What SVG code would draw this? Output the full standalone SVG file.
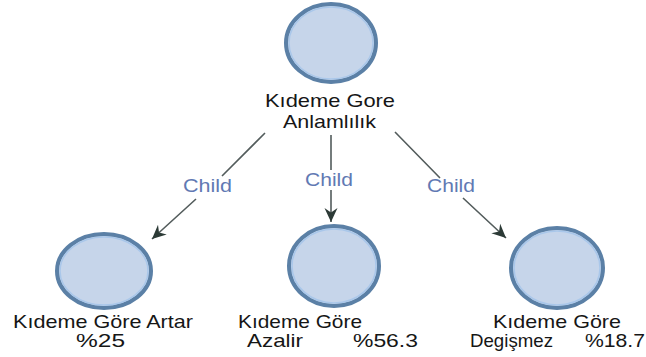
<svg xmlns="http://www.w3.org/2000/svg" width="646" height="357" viewBox="0 0 646 357">
  <style>
    .node-shape { fill: #c6d5ea; stroke: #5b80a6; stroke-width: 4; }
    .node-inner { fill: none; stroke: #a9c7ea; stroke-width: 1.5; }
    .label { font-family: "Liberation Sans", Arial, sans-serif; font-size: 18.5px; fill: #161616; }
    .edge { fill: none; stroke: #535c5c; stroke-width: 1.6; marker-end: url(#arrow); }
    .edge-label { font-family: "Liberation Sans", Arial, sans-serif; font-size: 17.5px; fill: #6179b3; }
  </style>
  <defs>
    <marker id="arrow" markerUnits="userSpaceOnUse" markerWidth="16" markerHeight="14" viewBox="-14 -7 16 14" refX="0" refY="0" orient="auto">
      <path d="M0,0 L-14,-6.5 L-9.5,0 L-14,6.5 Z" fill="#2c3a36"/>
    </marker>
  </defs>
  <rect width="646" height="357" fill="#ffffff"/>

  <g id="connectors">
    <path class="edge" d="M265,133 L222,176 M196,199 L152,239"/>
    <path class="edge" d="M331,135 L331,170 M331,190 L331,222"/>
    <path class="edge" d="M395,132 L440,178 M463,198 L506,238"/>
    <text class="edge-label" x="183" y="192" textLength="49" lengthAdjust="spacingAndGlyphs">Child</text>
    <text class="edge-label" x="305" y="186" textLength="48" lengthAdjust="spacingAndGlyphs">Child</text>
    <text class="edge-label" x="427" y="192" textLength="48" lengthAdjust="spacingAndGlyphs">Child</text>
  </g>

  <g id="root">
    <ellipse class="node-shape" cx="331" cy="43" rx="45" ry="39"/>
    <ellipse class="node-inner" cx="331" cy="43" rx="42" ry="36"/>
    <text class="label" x="265" y="107" textLength="130" lengthAdjust="spacingAndGlyphs">Kıdeme Gore</text>
    <text class="label" x="283" y="128" textLength="93" lengthAdjust="spacingAndGlyphs">Anlamlılık</text>
  </g>

  <g id="artar">
    <ellipse class="node-shape" cx="104" cy="271" rx="47" ry="37"/>
    <ellipse class="node-inner" cx="104" cy="271" rx="44" ry="34"/>
    <text class="label" x="13" y="328" textLength="180" lengthAdjust="spacingAndGlyphs">Kıdeme Göre Artar</text>
    <text class="label" x="76" y="347" textLength="49" lengthAdjust="spacingAndGlyphs">%25</text>
  </g>

  <g id="azalir">
    <ellipse class="node-shape" cx="334" cy="266" rx="45" ry="40"/>
    <ellipse class="node-inner" cx="334" cy="266" rx="42" ry="37"/>
    <text class="label" x="238" y="328" textLength="124" lengthAdjust="spacingAndGlyphs">Kıdeme Göre</text>
    <text class="label" x="247" y="347" textLength="56" lengthAdjust="spacingAndGlyphs">Azalir</text>
    <text class="label" x="353" y="347" textLength="65" lengthAdjust="spacingAndGlyphs">%56.3</text>
  </g>

  <g id="degismez">
    <ellipse class="node-shape" cx="557" cy="268" rx="46" ry="40"/>
    <ellipse class="node-inner" cx="557" cy="268" rx="43" ry="37"/>
    <text class="label" x="493" y="328" textLength="128" lengthAdjust="spacingAndGlyphs">Kıdeme Göre</text>
    <text class="label" x="470" y="347" textLength="83" lengthAdjust="spacingAndGlyphs">Degişmez</text>
    <text class="label" x="585" y="347" textLength="60" lengthAdjust="spacingAndGlyphs">%18.7</text>
  </g>
</svg>
